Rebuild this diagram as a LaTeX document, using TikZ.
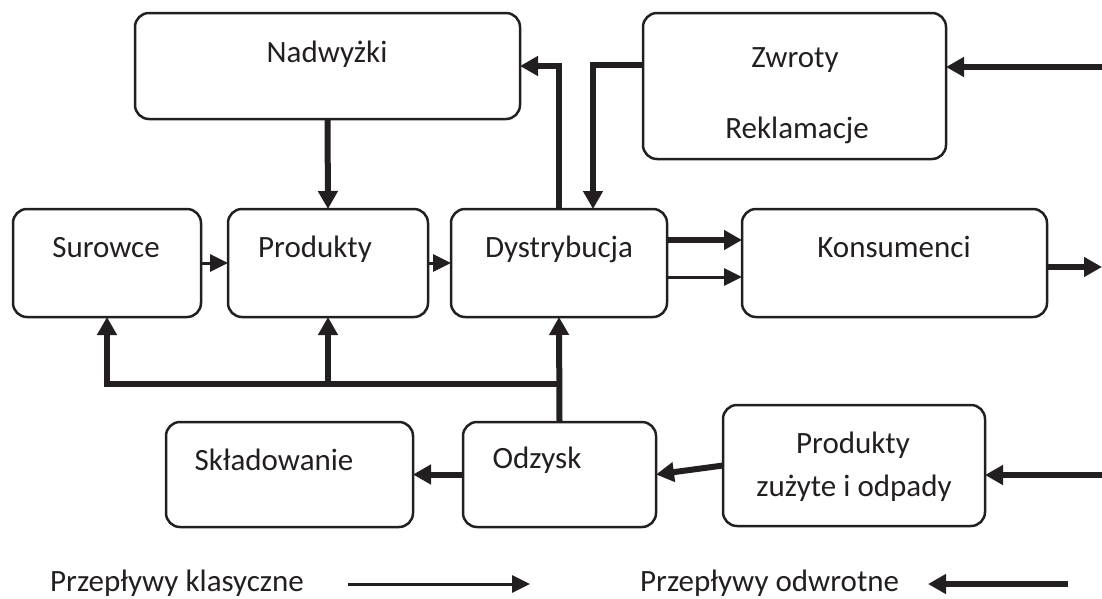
\documentclass[tikz,border=0pt]{standalone}
\usepackage{fontspec}
\setmainfont{Carlito}
\usetikzlibrary{arrows.meta, calc}
\definecolor{ciemny}{RGB}{35,31,32}

\begin{document}
\begin{tikzpicture}[x=1pt, y=-1pt, color=ciemny,
    blok/.style={draw, line width=2.5pt, rounded corners=14pt, inner sep=0pt, outer sep=0pt},
    opis/.style={anchor=base, inner sep=0pt, font=\fontsize{31}{37}\selectfont},
    klas/.style={line width=3pt, -{Triangle[length=18pt,width=17pt]}},
    odwr/.style={line width=6pt, -{Triangle[length=18pt,width=19pt]}}
  ]
    \useasboundingbox (0,0) rectangle (1102,598);

    % bloki
    \node[blok, minimum width=385pt, minimum height=106pt] (nad) at (327.5,66) {};
    \node[blok, minimum width=303pt, minimum height=146pt] (zwr) at (794.5,86) {};
    \node[blok, minimum width=188pt, minimum height=108pt] (sur) at (107,263) {};
    \node[blok, minimum width=200pt, minimum height=108pt] (prod) at (328,263) {};
    \node[blok, minimum width=216pt, minimum height=108pt] (dys) at (559,263) {};
    \node[blok, minimum width=305pt, minimum height=108pt] (kons) at (894.5,263) {};
    \node[blok, minimum width=247pt, minimum height=105pt] (skl) at (289.5,474.5) {};
    \node[blok, minimum width=193pt, minimum height=105pt] (odz) at (559.5,474.5) {};
    \node[blok, minimum width=262pt, minimum height=121pt] (pz) at (854,465.5) {};

    % napisy
    \node[opis] (nad-t) at (327,62) {Nadwyżki};
    \node[opis] (zwr-t) at (795,67) {Zwroty};
    \node[opis] (rek-t) at (797,138) {Reklamacje};
    \node[opis] (sur-t) at (106,257) {Surowce};
    \node[opis] (prod-t) at (315,257) {Produkty};
    \node[opis] (dys-t) at (559,257) {Dystrybucja};
    \node[opis] (kons-t) at (894,257) {Konsumenci};
    \node[opis] (skl-t) at (274,470) {Składowanie};
    \node[opis] (odz-t) at (537,468) {Odzysk};
    \node[opis] (pz-t1) at (853,453) {Produkty};
    \node[opis] (pz-t2) at (854,496) {zużyte i odpady};

    % wolne konce
    \coordinate (wej-zwr) at (1102,67);
    \coordinate (wyj-kons) at (1102,267);
    \coordinate (wej-pz) at (1102,475);
    \coordinate (szyna) at (559,384);

    % przeplywy klasyczne
    \draw[klas] (sur.east) -- (prod.west);
    \draw[klas] (prod.east) -- (dys.west);
    \draw[klas] ([yshift=-14pt]dys.east) -- ([yshift=-14pt]kons.west);

    % przeplywy odwrotne
    \draw[odwr] (nad.south) -- (prod.north);
    \draw[odwr] ([yshift=23pt]dys.east) -- ([yshift=23pt]kons.west);
    \draw[odwr] (kons.east |- wyj-kons) -- (wyj-kons);
    \draw[odwr] (dys.north) |- (nad.east);
    \draw[odwr] ([yshift=21pt]zwr.west) -| ([xshift=34pt]dys.north);
    \draw[odwr] (wej-zwr) -- (wej-zwr -| zwr.east);
    \draw[odwr] (wej-pz) -- (wej-pz -| pz.east);
    \draw[odwr] (pz.west) -- (odz.east);
    \draw[odwr] (odz.west) -- (skl.east);
    \draw[odwr] (odz.north) -- (dys.south);
    \draw[odwr] (szyna) -| (sur.south);
    \draw[odwr] (prod.south |- szyna) -- (prod.south);

    % legenda
    \node[opis, anchor=base west] (leg-klas) at (50,591) {Przepływy klasyczne};
    \node[opis, anchor=base west] (leg-odwr) at (640,591) {Przepływy odwrotne};
    \coordinate (klas-a) at (348,584);
    \coordinate (klas-b) at (530,584);
    \coordinate (odwr-a) at (1068,584);
    \coordinate (odwr-b) at (928,584);
    \draw[klas] (klas-a) -- (klas-b);
    \draw[odwr] (odwr-a) -- (odwr-b);
\end{tikzpicture}
\end{document}
